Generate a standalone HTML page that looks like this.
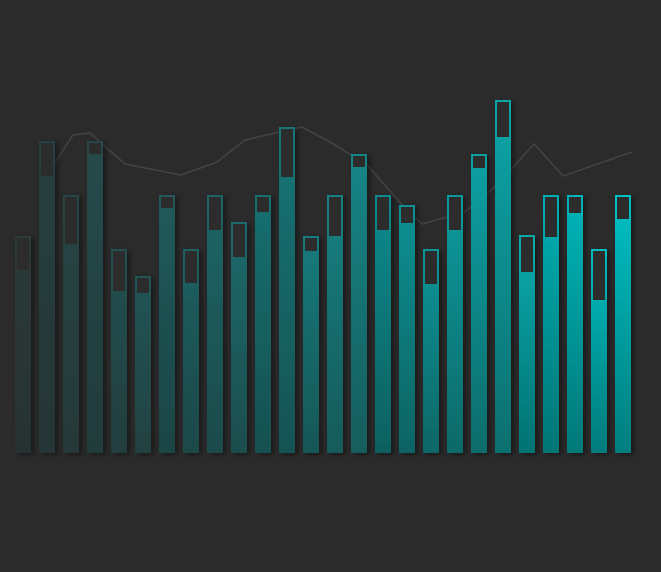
<!DOCTYPE html>
<html><head><meta charset="utf-8"><style>
html,body{margin:0;padding:0;background:#2b2b2b;}
svg{display:block;}
</style></head><body>
<svg width="661" height="572" viewBox="0 0 661 572" xmlns="http://www.w3.org/2000/svg">
<defs>
<filter id="sh" x="-50%" y="-10%" width="200%" height="130%"><feDropShadow dx="3" dy="2" stdDeviation="3" flood-color="#000" flood-opacity="0.45"/></filter>
</defs>
<rect width="661" height="572" fill="#2b2b2b"/>
<g id="lineg"></g>
<g id="bars"></g>
</svg>
<script>
const categories = Array.from({length:26},(_,i)=>'C'+(i+1));
const targets = [217,312,258,312,204,177,258,204,258,231,258,326,217,258,299,258,248,204,258,299,353,218,258,258,204,258];
const actuals = [183,277,209,299,162,160,245,170,223,196,241,276,202,217,286,223,230,169,223,285,316,181,216,240,153,234];
const lineX = [45,73,90,125,181,217,245,275,302,330,367,405,422,465,497,534,563,632];
const lineVals = [275,318,320,289,278,291,313,320,326,311,288,245,229,241,268,309,277,301];

const NS='http://www.w3.org/2000/svg';
const baseY=453, left0=15, pitch=24, bw=16;
const xPos=i=>left0+pitch*i;
const yPos=v=>baseY-v;
const lx=v=>v;
function mix(a,b,t){return a.map((v,k)=>Math.round(v+(b[k]-v)*t));}
function rgb(c){return 'rgb('+c.join(',')+')';}
const defs=document.querySelector('defs');
const barsG=document.getElementById('bars');
const n=categories.length;
categories.forEach((c,i)=>{
  const t=i/(n-1);
  const top=mix([42,58,58],[0,192,196],t);
  const bot=mix([40,50,50],[0,126,126],t);
  const g=document.createElementNS(NS,'linearGradient');
  g.setAttribute('id','g'+i);g.setAttribute('x1','0');g.setAttribute('y1','0');g.setAttribute('x2','0');g.setAttribute('y2','1');
  g.innerHTML='<stop offset="0" stop-color="'+rgb(top)+'"/><stop offset="1" stop-color="'+rgb(bot)+'"/>';
  defs.appendChild(g);
  const x=xPos(i), yt=yPos(targets[i]), ya=yPos(actuals[i]);
  const r=document.createElementNS(NS,'rect');
  
  
  r.setAttribute('x',x);r.setAttribute('y',yt);r.setAttribute('width',bw);r.setAttribute('height',baseY-yt);
  r.setAttribute('fill','url(#g'+i+')');r.setAttribute('filter','url(#sh)');
  barsG.appendChild(r);
  const inner=document.createElementNS(NS,'rect');
  
  
  inner.setAttribute('x',x+2);inner.setAttribute('y',yt+2);inner.setAttribute('width',bw-4);inner.setAttribute('height',Math.max(0,ya-yt-2));
  inner.setAttribute('fill','#2c2c2c');
  barsG.appendChild(inner);
});
const pts=lineVals.map((v,i)=>lx(lineX[i])+','+yPos(v)).join(' ');
const pl=document.createElementNS(NS,'polyline');


pl.setAttribute('points',pts);pl.setAttribute('fill','none');pl.setAttribute('stroke','#434343');pl.setAttribute('stroke-width','1.6');
document.getElementById('lineg').appendChild(pl);
</script>
</body></html>
